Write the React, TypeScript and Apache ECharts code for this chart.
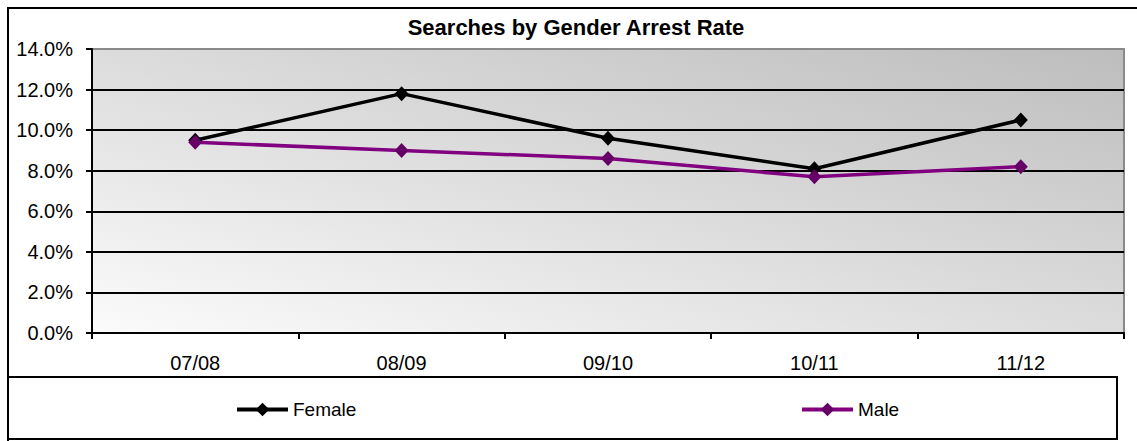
import React, { useEffect, useRef } from "react";
import * as echarts from "echarts";

const categories = ["07/08", "08/09", "09/10", "10/11", "11/12"];
const femaleValues = [9.5, 11.8, 9.6, 8.1, 10.5];
const maleValues = [9.4, 9.0, 8.6, 7.7, 8.2];
const titleText = "Searches by Gender Arrest Rate";
const FONT = "'Liberation Sans', Arial, sans-serif";

export default function App() {
  const ref = useRef<HTMLDivElement>(null);
  useEffect(() => {
    if (!ref.current) return;
    const chart = echarts.init(ref.current, undefined, { renderer: "svg" });
    const splitColors = ["#000", "#000", "#000", "#000", "#000", "#000", "#000", "#8a8a8a"];
    const legendCommon = {
      top: 400,
      padding: 0,
      itemWidth: 51,
      itemHeight: 17,
      itemGap: 5,
      lineStyle: { width: 4 },
      textStyle: { fontSize: 19, color: "#000", fontFamily: FONT },
    };
    chart.setOption({
      animation: false,
      textStyle: { fontFamily: FONT },
      graphic: [
        {
          type: "rect",
          shape: { x: 8, y: 8, width: 1140, height: 440 },
          style: { fill: "none", stroke: "#000", lineWidth: 2 },
          silent: true,
        },
        {
          type: "rect",
          shape: { x: 8, y: 377, width: 1109, height: 62 },
          style: { fill: "none", stroke: "#000", lineWidth: 2 },
          silent: true,
        },
        {
          type: "text",
          x: 576,
          y: 16,
          style: {
            text: titleText,
            fontFamily: FONT,
            fontSize: 22,
            fontWeight: "bold",
            fill: "#000",
            textAlign: "center",
            textVerticalAlign: "top",
          },
        },
      ],
      grid: {
        left: 92,
        top: 49,
        right: 13,
        bottom: 108,
        show: true,
        borderColor: "#8a8a8a",
        borderWidth: 2,
        backgroundColor: new echarts.graphic.LinearGradient(0, 1, 1, 0, [
          { offset: 0, color: "#fbfbfb" },
          { offset: 1, color: "#bdbdbd" },
        ]),
      },
      legend: [
        { ...legendCommon, data: ["Female"], left: 235 },
        { ...legendCommon, data: ["Male"], left: 800 },
      ],
      xAxis: {
        type: "category",
        data: categories,
        boundaryGap: true,
        axisLine: { lineStyle: { color: "#000", width: 2 } },
        axisTick: { show: true, length: 6, lineStyle: { color: "#000", width: 2 } },
        axisLabel: { fontSize: 20, color: "#000", margin: 20, fontFamily: FONT },
      },
      yAxis: {
        type: "value",
        min: 0,
        max: 14,
        interval: 2,
        axisLine: { show: true, lineStyle: { color: "#000", width: 2 } },
        axisTick: { show: true, length: 6, lineStyle: { color: "#000", width: 2 } },
        axisLabel: {
          fontSize: 20,
          color: "#000",
          margin: 19,
          fontFamily: FONT,
          formatter: (v: number) => v.toFixed(1) + "%",
        },
        splitLine: { show: true, lineStyle: { color: splitColors, width: 2 } },
      },
      series: [
        {
          name: "Female",
          type: "line",
          data: femaleValues,
          symbol: "diamond",
          symbolSize: [14, 15],
          lineStyle: { color: "#000", width: 3.5 },
          itemStyle: { color: "#000" },
        },
        {
          name: "Male",
          type: "line",
          data: maleValues,
          symbol: "diamond",
          symbolSize: [14, 15],
          lineStyle: { color: "#800080", width: 3.5 },
          itemStyle: { color: "#660066" },
        },
      ],
    });
    return () => chart.dispose();
  }, []);
  return (
    <div
      ref={ref}
      style={{ position: "fixed", left: 0, top: 0, width: 1137, height: 441, background: "#fff" }}
    />
  );
}
